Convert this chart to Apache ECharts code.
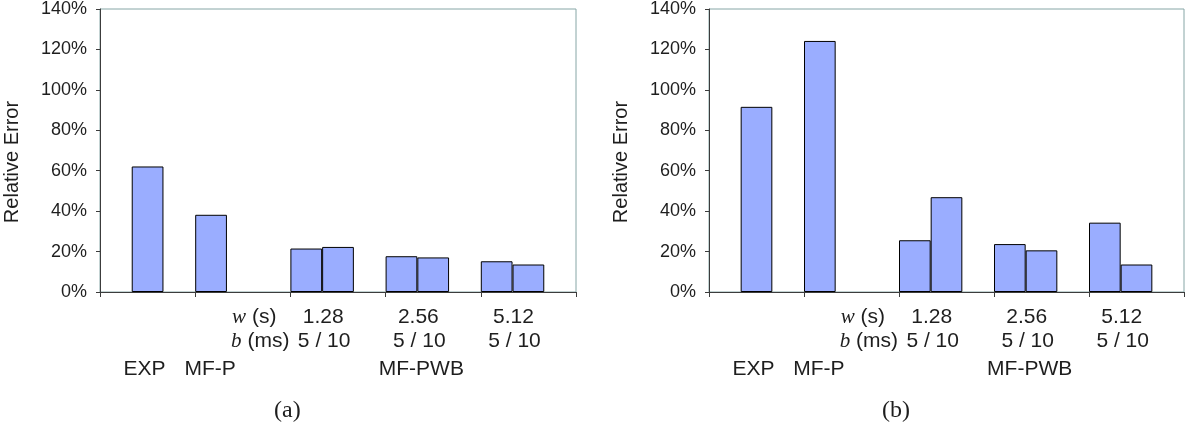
<!DOCTYPE html>
<html>
<head>
<meta charset="utf-8">
<script src="https://cdn.jsdelivr.net/npm/echarts@6/dist/echarts.min.js"></script>
<style>
  html, body { margin: 0; padding: 0; background: #fff; }
  #chart { width: 1186px; height: 429px; }
</style>
</head>
<body>
<div id="chart"></div>
<script>
// Bar slots along each x axis (empty slots separate the groups)
const slots = ['', 'EXP', '', 'MF-P', '', '', 'w1.28 b5', 'w1.28 b10', '', 'w2.56 b5', 'w2.56 b10', '', 'w5.12 b5', 'w5.12 b10', ''];

// Relative error (%) per slot, panel (a) and panel (b)
const errorA = [null, 62.1, null, 38.2, null, null, 21.5, 22.3, null, 17.7, 17.1, null, 15.2, 13.6, null];
const errorB = [null, 91.6, null, 124.2, null, null, 25.6, 46.9, null, 23.7, 20.6, null, 34.3, 13.6, null];

// Labels under the axis
const windowLabels = ['1.28', '2.56', '5.12'];
const binLabels = ['5 / 10', '5 / 10', '5 / 10'];
const methodLabels = ['EXP', 'MF-P', 'MF-PWB'];
const panelLabels = ['(a)', '(b)'];
const yTitle = 'Relative Error';

const FONT = '"Liberation Sans", Arial, sans-serif';
const SERIF = '"Liberation Serif", "Times New Roman", serif';
const TEXT = '#1e1e1e';
const BAR = '#9aadff';
const FRAME = '#86a6a6';
const AXIS = '#3c3c3c';

const chart = echarts.init(document.getElementById('chart'), null, { renderer: 'canvas' });

function xAxisFor(i) {
  return {
    type: 'category', gridIndex: i, data: slots,
    axisLine: { lineStyle: { color: AXIS, width: 1 } },
    axisTick: { show: true, length: 5, lineStyle: { color: AXIS } },
    axisLabel: { show: false }
  };
}
function yAxisFor(i) {
  return {
    type: 'value', gridIndex: i, min: 0, max: 140, interval: 20,
    name: yTitle, nameLocation: 'middle', nameGap: 78,
    nameTextStyle: { fontFamily: FONT, fontSize: 20, color: TEXT, padding: [0, 23, 0, 0] },
    axisLine: { show: true, lineStyle: { color: AXIS, width: 1 } },
    axisTick: { show: true, length: 4, lineStyle: { color: AXIS } },
    splitLine: { show: false },
    axisLabel: { formatter: '{value}%', fontFamily: FONT, fontSize: 18, color: TEXT, margin: 13 }
  };
}
function seriesFor(i, data) {
  return {
    type: 'bar', xAxisIndex: i, yAxisIndex: i, data: data,
    barWidth: '100%', barGap: '0%',
    itemStyle: { color: BAR, borderColor: '#000', borderWidth: 1 },
    silent: true
  };
}

chart.setOption({
  animation: false,
  backgroundColor: '#fff',
  grid: [
    { left: 100, top: 7, width: 476, height: 285, show: true, borderColor: FRAME, borderWidth: 1, backgroundColor: 'transparent' },
    { left: 709, top: 7, width: 475, height: 285, show: true, borderColor: FRAME, borderWidth: 1, backgroundColor: 'transparent' }
  ],
  xAxis: [xAxisFor(0), xAxisFor(1)],
  yAxis: [yAxisFor(0), yAxisFor(1)],
  series: [seriesFor(0, errorA), seriesFor(1, errorB)]
});

// Place the under-axis labels at category centres / boundaries of each axis
function boundary(axisIdx, k) {
  const c0 = chart.convertToPixel({ xAxisIndex: axisIdx }, 0);
  const c1 = chart.convertToPixel({ xAxisIndex: axisIdx }, 1);
  const bw = c1 - c0;
  return c0 - bw / 2 + k * bw;
}
function txt(x, y, text, opts) {
  return {
    type: 'text', x: x, y: y, silent: true,
    style: Object.assign({ text: text, font: '21px ' + FONT, fill: TEXT, align: 'center', verticalAlign: 'middle' }, opts || {})
  };
}

const graphics = [];
[0, 1].forEach(function (a) {
  const B = function (k) { return boundary(a, k); };
  const rowW = 317, rowB = 341, rowM = 369, rowP = 411;
  const rich = { i: { fontFamily: SERIF, fontStyle: 'italic', fontSize: 21, fill: TEXT } };
  graphics.push(txt(B(6) - 14, rowW, '{i|w} (s)', { align: 'right', rich: rich }));
  graphics.push(txt(B(6) - 1, rowB, '{i|b} (ms)', { align: 'right', rich: rich }));
  [7, 10, 13].forEach(function (k, j) {
    graphics.push(txt(B(k) + 1, rowW, windowLabels[j]));
    graphics.push(txt(B(k) + 2, rowB, binLabels[j]));
  });
  graphics.push(txt(B(1.5) - 3, rowM, methodLabels[0]));
  graphics.push(txt(B(3.5) - 1, rowM, methodLabels[1]));
  graphics.push(txt(B(10) + 4, rowM, methodLabels[2]));
  graphics.push(txt(B(6) - 3, rowP, panelLabels[a], { font: '24px ' + SERIF }));
});
chart.setOption({ graphic: graphics });
</script>
</body>
</html>
